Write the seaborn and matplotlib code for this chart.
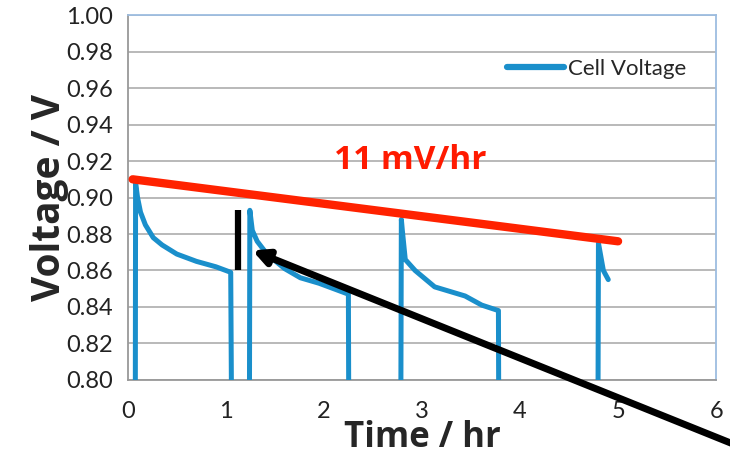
import pandas as pd
import matplotlib
matplotlib.use("Agg")
import matplotlib.pyplot as plt
import seaborn as sns

# cell voltage trace (values below 0.80 are off-scale, the cell was off)
time_hr = [0.00, 0.07, 0.08, 0.10, 0.13, 0.18, 0.26, 0.35, 0.50, 0.70, 0.90, 1.05,
           1.09, 1.23, 1.245, 1.27, 1.32, 1.42, 1.60, 1.76, 1.95, 2.10, 2.25,
           2.27, 2.77, 2.79, 2.80, 2.83, 2.93, 3.13, 3.44, 3.61, 3.78,
           3.80, 4.78, 4.80, 4.85, 4.90]
voltage = [0.50, 0.50, 0.908, 0.900, 0.892, 0.885, 0.878, 0.874, 0.869, 0.865, 0.862, 0.859,
           0.50, 0.50, 0.893, 0.882, 0.876, 0.869, 0.861, 0.856, 0.853, 0.850, 0.847,
           0.50, 0.50, 0.888, 0.882, 0.866, 0.860, 0.851, 0.846, 0.841, 0.838,
           0.50, 0.50, 0.875, 0.860, 0.855]

# decay trend line
trend_t = [0.05, 5.0]
trend_v = [0.910, 0.876]
trend_label = "11 mV/hr"

x_ticks = [0, 1, 2, 3, 4, 5, 6]
y_ticks = [0.80, 0.82, 0.84, 0.86, 0.88, 0.90, 0.92, 0.94, 0.96, 0.98, 1.00]

df = pd.DataFrame({"Time / hr": time_hr, "Cell Voltage": voltage})

sns.set_style("white")
plt.rcParams["font.family"] = ["Lato", "DejaVu Sans"]
bold_font = ["Open Sans", "DejaVu Sans"]

fig = plt.figure(figsize=(7.3, 4.61), dpi=100)
ax = fig.add_axes([0.175, 0.176, 0.806, 0.791])

sns.lineplot(data=df, x="Time / hr", y="Cell Voltage", ax=ax, color="#1a8fcb",
             linewidth=3.6, label="Cell Voltage", zorder=3)
sns.lineplot(x=trend_t, y=trend_v, ax=ax, color="#ff2200", linewidth=6, zorder=4)

ax.text(2.88, 0.9205, trend_label, color="#ff1a00", fontsize=24, fontweight="bold",
        ha="center", va="center", family=bold_font)

# black marker bar and arrow
ax.plot([1.12, 1.12], [0.860, 0.893], color="black", linewidth=4.5, zorder=5,
        solid_capstyle="butt")
ax.annotate("", xy=(1.27, 0.871), xytext=(6.35, 0.761),
            arrowprops=dict(arrowstyle="-|>,head_length=0.9,head_width=0.45",
                            color="black", lw=5, shrinkA=0, shrinkB=0),
            annotation_clip=False, zorder=6)

ax.set_xlim(0, 6)
ax.set_ylim(0.80, 1.00)
ax.set_xticks(x_ticks)
ax.set_yticks(y_ticks)
ax.set_yticklabels([f"{v:.2f}" for v in y_ticks])
ax.tick_params(axis="both", labelsize=17, colors="#888888", labelcolor="#222222",
               length=7, width=1.2, direction="out")
ax.tick_params(axis="x", pad=8)
ax.yaxis.grid(True, color="#b3b3b3", linewidth=1.3)
ax.set_axisbelow(True)

for side in ["left", "bottom"]:
    ax.spines[side].set_color("#999999")
    ax.spines[side].set_linewidth(1.3)
for side in ["top", "right"]:
    ax.spines[side].set_color("#9dbde0")
    ax.spines[side].set_linewidth(1.3)

ax.set_xlabel("Time / hr", fontsize=25, fontweight="bold", labelpad=-1, family=bold_font)
ax.set_ylabel("Voltage / V", fontsize=28, fontweight="bold", labelpad=-2, family=bold_font)

leg = ax.legend(loc="center left", bbox_to_anchor=(0.61, 0.853), frameon=False,
                fontsize=16, handlelength=2.6, handletextpad=0.15)
for line in leg.get_lines():
    line.set_linewidth(4.5)

fig.savefig("out.png", dpi=100)
